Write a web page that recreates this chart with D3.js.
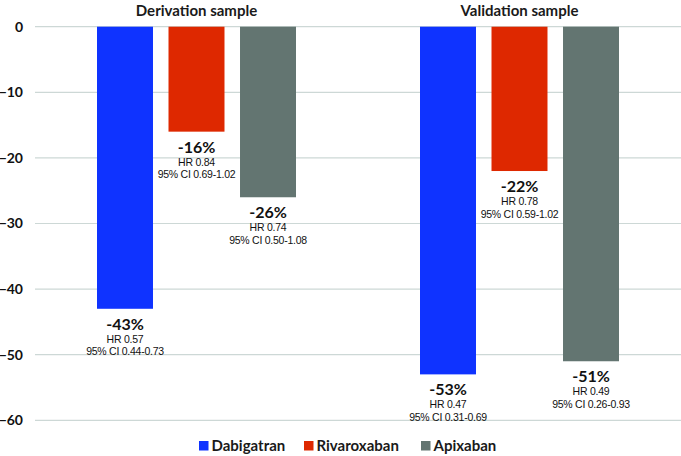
<!DOCTYPE html>
<html><head><meta charset="utf-8">
<script src="https://cdn.jsdelivr.net/npm/d3@7"></script>
<style>body{margin:0;background:#fff}svg{display:block}</style>
</head><body>
<svg id="chart" width="681" height="456"></svg>
<script>
const groups = ["Derivation sample", "Validation sample"];
const drugs = ["Dabigatran", "Rivaroxaban", "Apixaban"];
const derivation = [-43, -16, -26];
const validation = [-53, -22, -51];
const derivationHR = ["HR 0.57", "HR 0.84", "HR 0.74"];
const derivationCI = ["95% CI 0.44-0.73", "95% CI 0.69-1.02", "95% CI 0.50-1.08"];
const validationHR = ["HR 0.47", "HR 0.78", "HR 0.49"];
const validationCI = ["95% CI 0.31-0.69", "95% CI 0.59-1.02", "95% CI 0.26-0.93"];
const yTicks = [0, -10, -20, -30, -40, -50, -60];
const colors = ["#0f33ff", "#de2800", "#637571"];

const values = [derivation, validation];
const hrs = [derivationHR, validationHR];
const cis = [derivationCI, validationCI];

const svg = d3.select("#chart");
const mLeft = 35, mRight = 681, mTop = 26.7, mBottom = 420.3;
const y = d3.scaleLinear().domain([0, -60]).range([mTop, mBottom]);
const x0 = d3.scaleBand().domain(groups).range([mLeft, mRight]);
const innerW = 199;
const x1 = d3.scaleBand().domain(drugs).range([0, innerW]).paddingInner(0.217).paddingOuter(0);
const boldFont = "Lato, 'Open Sans', sans-serif";
const smallFont = "'Liberation Sans', Arial, sans-serif";

// grid
svg.append("g").selectAll("line").data(yTicks).join("line")
  .attr("x1", mLeft).attr("x2", mRight)
  .attr("y1", d => y(d)).attr("y2", d => y(d))
  .attr("stroke", "#cdd8d6").attr("stroke-width", 1.2);

// y axis labels
const yAxis = d3.axisLeft(y).tickValues(yTicks).tickSize(0).tickPadding(0);
const ya = svg.append("g").attr("transform", `translate(23,0)`).call(yAxis);
ya.select(".domain").remove();
ya.selectAll("text").attr("font-family", boldFont).attr("font-weight", "bold")
  .attr("font-size", 14).attr("fill", "#111");

// group titles
svg.append("g").selectAll("text").data(groups).join("text")
  .attr("x", d => x0(d) + x0.bandwidth() / 2).attr("y", 15.5)
  .attr("text-anchor", "middle").attr("font-family", boldFont).attr("font-weight", "bold")
  .attr("font-size", 15).attr("fill", "#1a1a1a").text(d => d);

groups.forEach((g, gi) => {
  const gx = x0(g) + (x0.bandwidth() - innerW) / 2;
  const gg = svg.append("g").attr("transform", `translate(${gx},0)`);
  const data = drugs.map((d, i) => ({drug: d, v: values[gi][i], hr: hrs[gi][i], ci: cis[gi][i], c: colors[i]}));
  gg.selectAll("rect").data(data).join("rect")
    .attr("x", d => x1(d.drug)).attr("width", x1.bandwidth())
    .attr("y", y(0)).attr("height", d => y(d.v) - y(0))
    .attr("fill", d => d.c);
  const lab = gg.selectAll("g.lab").data(data).join("g").attr("class", "lab")
    .attr("transform", d => `translate(${x1(d.drug) + x1.bandwidth() / 2},${y(d.v)})`);
  lab.append("text").attr("y", 21).attr("text-anchor", "middle")
    .attr("font-family", boldFont).attr("font-weight", "bold").attr("font-size", 16)
    .attr("fill", "#111").text(d => d.v + "%");
  lab.append("text").attr("y", 34).attr("text-anchor", "middle")
    .attr("font-family", smallFont).attr("font-size", 10.5).attr("letter-spacing", -0.25)
    .attr("fill", "#111").text(d => d.hr);
  lab.append("text").attr("y", 46.5).attr("text-anchor", "middle")
    .attr("font-family", smallFont).attr("font-size", 10.5).attr("letter-spacing", -0.25)
    .attr("fill", "#111").text(d => d.ci);
});

// legend
const legendX = [199, 304, 421];
const lg = svg.append("g").selectAll("g").data(drugs).join("g")
  .attr("transform", (d, i) => `translate(${legendX[i]},450.5)`);
lg.append("rect").attr("x", 0).attr("y", -9.5).attr("width", 9.5).attr("height", 9.5)
  .attr("fill", (d, i) => colors[i]);
lg.append("text").attr("x", 12.5).attr("y", 0)
  .attr("font-family", boldFont).attr("font-weight", "bold").attr("font-size", 15)
  .attr("fill", "#1a1a1a").text(d => d);
</script>
</body></html>
